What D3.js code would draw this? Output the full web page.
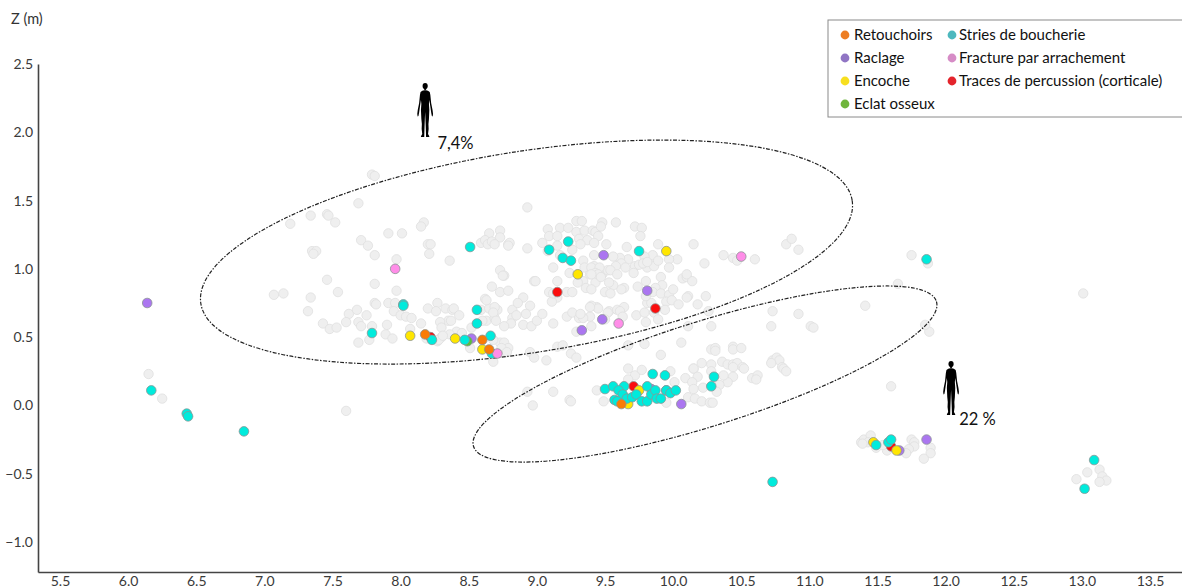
<!DOCTYPE html>
<html><head><meta charset="utf-8">
<script src="https://cdn.jsdelivr.net/npm/d3@7"></script>
<style>html,body{margin:0;padding:0;background:#fff}svg{display:block}text{font-family:Lato,"Open Sans",sans-serif}</style>
</head><body><svg id="c" width="1182" height="588"></svg>
<script>
const xTicks=[5.5,6,6.5,7,7.5,8,8.5,9,9.5,10,10.5,11,11.5,12,12.5,13,13.5];
const yTicks=[-1,-0.5,0,0.5,1,1.5,2,2.5];
const grisPoints=[
[7.79,1.69],[7.81,1.68],[7.69,1.48],[7.19,1.33],[7.34,1.39],[7.46,1.40],[7.47,1.39],[7.52,1.34],[7.91,1.26],[7.71,1.21],[7.76,1.17],[7.81,1.10],[7.35,1.13],[7.38,1.13],[7.36,1.11],[7.97,1.07],[7.46,0.92],[7.81,0.89],[7.97,0.84],[7.54,0.83],[7.07,0.81],[7.14,0.82],[7.34,0.79],[8.01,1.26],
[8.17,1.34],[8.15,1.31],[8.20,1.18],[8.22,1.18],[8.21,1.11],[8.36,1.06],[8.93,1.45],
[8.73,1.28],[8.65,1.26],[8.73,1.23],[8.59,1.19],[8.62,1.21],[8.64,1.18],[8.67,1.20],[8.69,1.18],[8.79,1.18],[8.80,1.19],[8.79,1.17],[8.93,1.15],
[9.08,1.29],[9.17,1.30],[9.23,1.30],[9.29,1.35],[9.33,1.35],[9.29,1.27],[9.35,1.28],[9.41,1.28],[9.43,1.27],[9.48,1.34],[9.47,1.31],[9.45,1.24],[9.09,1.24],[9.15,1.24],[9.04,1.19],[9.15,1.17],[9.08,1.13],[9.31,1.22],[9.37,1.21],[9.32,1.18],[9.42,1.19],[9.26,1.14],[9.17,1.10],[9.42,1.10],[9.34,1.06],[9.42,1.02],[9.12,1.01],[9.35,1.01],[9.24,0.97],[9.39,0.96],[9.48,0.96],[9.52,0.99],[9.34,0.91],[9.15,0.91],[9.43,0.90],[8.98,0.91],[8.99,0.91],[8.73,0.99],[8.76,0.95],[8.75,0.95],[8.67,0.87],[8.73,0.83],[8.79,0.84],[8.62,0.78],[8.90,0.79],[9.09,0.83],[9.22,0.83],[9.26,0.83],[9.30,0.90],[9.36,0.86],[9.50,0.83],[9.15,0.79],
[9.85,1.06],[9.85,1.10],[9.79,1.09],[9.67,1.07],[9.61,1.08],[9.56,1.09],[9.62,1.04],[9.58,1.02],[9.54,0.99],[9.59,0.96],[9.65,1.01],[9.72,1.02],[9.75,1.03],[9.81,1.01],[9.86,1.02],[9.71,0.97],[9.78,1.04],[9.81,1.05],[9.91,0.94],[9.80,0.91],[9.74,0.87],[9.64,0.86],[9.62,0.85],[9.56,0.88],[9.54,0.82],[9.53,0.90],[9.40,1.01],[9.46,1.01],[9.43,0.97],[9.45,0.96],[9.40,0.96],[9.47,0.94],[9.40,0.85],[10.07,0.93],[10.10,0.94],[10.14,0.91],[10.10,0.96],[9.92,0.88],[9.87,0.86],[9.85,0.83],[9.91,0.82],[9.97,0.81],[10.00,0.85],[9.95,0.76],[9.99,0.77],[10.04,0.74],[10.11,0.80],[10.10,0.79],[10.18,0.74],[10.24,0.80],[9.81,0.75],[9.84,0.75],[9.94,0.70],[9.80,0.80],[9.44,0.72],[9.40,0.73],[9.45,0.71],[9.53,0.69],[9.59,0.70],[9.64,0.72],[9.61,0.69],[9.63,0.65],[9.73,0.66],[9.79,0.68],[9.86,0.68],
[9.58,1.34],[9.72,1.31],[9.77,1.30],[9.76,1.24],[9.66,1.16],[9.89,1.18],[10.15,1.18],[10.23,1.04],[10.03,1.07],[9.97,1.07],[9.97,1.01],[9.89,1.06],[9.51,1.18],
[7.32,0.69],[7.81,0.75],[7.82,0.74],[7.91,0.75],[7.96,0.75],[7.62,0.67],[7.68,0.70],[7.75,0.66],[7.95,0.69],[8.00,0.66],[8.04,0.65],[7.60,0.61],[7.69,0.61],[7.71,0.58],[7.43,0.60],[7.48,0.56],[7.53,0.57],[7.79,0.58],[7.90,0.59],[7.89,0.52],[7.94,0.49],[7.69,0.46],[7.77,0.48],[8.07,0.56],
[8.27,0.75],[8.20,0.71],[8.26,0.69],[8.33,0.71],[8.38,0.70],[8.39,0.71],[8.43,0.66],[8.35,0.62],[8.37,0.62],[8.29,0.61],[8.30,0.57],[8.15,0.60],[8.08,0.64],[8.41,0.54],[8.45,0.53],[8.36,0.52],[8.30,0.50],[8.27,0.47],[8.19,0.49],[8.52,0.57],[8.59,0.70],[8.63,0.62],[8.60,0.62],[8.69,0.64],[8.71,0.70],[8.65,0.71],[8.69,0.72],[8.63,0.77],
[8.68,0.68],[8.82,0.70],[8.86,0.75],[8.95,0.73],[8.92,0.67],[8.82,0.64],[8.81,0.60],[8.90,0.59],[8.96,0.58],[9.00,0.62],[9.04,0.67],[9.12,0.60],[9.22,0.65],[9.26,0.68],[9.31,0.64],[8.70,0.62],[8.76,0.58],[9.11,0.76],[9.12,0.82],
[8.73,0.46],[8.76,0.46],[8.79,0.42],[8.74,0.42],[8.78,0.39],[8.68,0.32],[8.51,0.42],[8.95,0.39],[8.98,0.35],[9.07,0.33],[9.15,0.43],[9.19,0.44],[9.25,0.38],[9.29,0.35],[8.68,0.48],[8.28,0.48],[8.31,0.51],
[9.39,0.65],[9.34,0.64],[9.32,0.67],[9.39,0.72],[9.52,0.68],[9.50,0.63],[9.40,0.58],[9.29,0.54],[8.85,0.66],[9.44,0.11],[9.24,0.04],[9.12,0.10],[8.93,0.10],[8.97,0.00],
[10.37,1.10],[10.44,1.08],[10.47,1.06],[10.60,1.07],[10.83,1.18],[10.87,1.22],[10.92,1.14],[10.73,0.69],[10.92,0.67],[10.72,0.58],[11.01,0.58],[11.03,0.57],[11.41,0.73],[10.28,0.58],[10.11,0.58],[10.26,0.69],[9.89,0.63],[9.80,0.61],[9.67,0.44],[9.79,0.45],[9.91,0.37],[10.06,0.46],[10.28,0.41],[10.31,0.42],[10.31,0.40],[10.44,0.43],[10.44,0.41],[10.50,0.42],
[10.21,0.31],[10.15,0.27],[10.28,0.30],[10.36,0.32],[10.40,0.30],[10.44,0.30],[10.47,0.31],[10.51,0.28],[10.73,0.33],[10.76,0.35],[10.78,0.33],[10.80,0.28],[10.72,0.31],[10.81,0.27],[10.83,0.25],[10.58,0.20],[10.62,0.22],[10.61,0.19],[10.44,0.28],[10.52,0.27],[10.44,0.21],[10.40,0.17],[10.15,0.27],[10.28,0.25],[10.18,0.21],[10.09,0.20],[10.14,0.17],[10.22,0.13],[10.15,0.12],[10.34,0.15],[10.37,0.22],[10.32,0.10],[10.11,0.06],[10.16,0.05],[10.21,0.03],[10.27,0.02],[10.29,0.02],[9.67,0.27],[9.72,0.22],[9.67,0.19],[9.98,0.25],[10.01,0.17],[9.49,0.03],[9.25,0.03],[9.95,0.02],[9.77,0.26],
[11.60,0.14],[11.38,-0.27],[11.40,-0.25],[11.45,-0.22],[11.43,-0.27],[11.39,-0.28],[11.49,-0.31],[11.57,-0.33],[11.54,-0.29],[11.75,-0.25],[11.77,-0.27],[11.77,-0.30],[11.73,-0.32],[11.71,-0.35],[11.89,-0.31],[11.89,-0.35],[11.84,-0.39],[12.96,-0.54],[13.04,-0.49],[13.13,-0.47],[13.15,-0.52],[13.18,-0.55],[13.13,-0.56],
[6.15,0.23],[6.25,0.05],[7.60,-0.04],[13.01,0.82],[11.75,1.10],[11.65,0.89],[11.87,1.04],[11.88,0.54],[11.85,0.59]
];
const raclage=[[6.14,0.75],[8.52,0.49],[9.49,1.10],[9.81,0.84],[9.48,0.63],[9.33,0.55],[10.06,0.01],[11.86,-0.25],[11.66,-0.33],[9.84,0.12],[9.95,0.11]];
const eclatOsseux=[[8.49,0.47]];
const percussion=[[8.22,0.50],[9.15,0.83],[9.87,0.71],[9.71,0.14],[11.60,-0.30]];
const encoche=[[8.07,0.51],[8.40,0.49],[8.60,0.41],[9.30,0.96],[9.95,1.13],[11.47,-0.27],[11.64,-0.33],[9.67,0.01],[9.75,0.11]];
const stries=[[6.17,0.11],[6.43,-0.06],[6.44,-0.08],[6.85,-0.19],[10.73,-0.56],[13.09,-0.40],[13.02,-0.61],[7.79,0.53],[8.02,0.74],[8.02,0.73],[8.51,1.16],[8.23,0.48],[8.56,0.70],[8.56,0.60],[8.47,0.48],[8.66,0.51],[8.67,0.38],[9.23,1.20],[9.09,1.14],[9.19,1.08],[9.25,1.06],[9.75,1.13],[9.85,0.23],[9.94,0.22],[9.50,0.12],[9.56,0.14],[9.64,0.14],[9.60,0.11],[9.63,0.08],[9.57,0.04],[9.59,0.03],[9.66,0.05],[9.70,0.06],[9.73,0.08],[9.77,0.03],[9.81,0.03],[9.81,0.14],[9.84,0.08],[9.87,0.11],[9.88,0.05],[9.91,0.05],[9.95,0.11],[9.98,0.09],[10.02,0.11],[10.30,0.21],[10.28,0.14],[11.49,-0.29],[11.58,-0.27],[11.60,-0.25],[11.86,1.07]];
const fracture=[[7.96,1.00],[10.50,1.09],[9.60,0.60],[8.71,0.38]];
const retouchoirs=[[8.18,0.52],[8.60,0.48],[8.65,0.41],[9.62,0.01]];
const markSeries=[[raclage,"#ab76f0"],[eclatOsseux,"#55c43a"],[percussion,"#fb0d0d"],[encoche,"#ffe600"],[stries,"#00ebdc"],[fracture,"#ff8de8"],[retouchoirs,"#f97c06"]];
const legendCol1=[["Retouchoirs","#ed7d22"],["Raclage","#9075c4"],["Encoche","#f7df1f"],["Eclat osseux","#6fb53c"]];
const legendCol2=[["Stries de boucherie","#4db8be"],["Fracture par arrachement","#d68cc6"],["Traces de percussion (corticale)","#e4242c"]];
const ellipses=[{cx:8.924,cy:1.123,rx:2.42,ry:0.737,a:-9},{cx:10.234,cy:0.23,rx:1.78,ry:0.383,a:-17.4}];
const humans=[{x:8.18,top:2.36,label:"7,4%",lx:8.27,ly:1.88},{x:12.04,top:0.325,label:"22 %",lx:12.10,ly:-0.145}];

const svg=d3.select("#c");
const x=d3.scaleLinear().domain([5.3385,13.735]).range([38,1182]);
const y=d3.scaleLinear().domain([-1.2197,2.5]).range([572,64]);

const ax=svg.append("g").attr("transform","translate(0,572)").call(d3.axisBottom(x).tickValues(xTicks).tickSizeInner(0).tickSizeOuter(0).tickPadding(4).tickFormat(d3.format(".1f")));
const ay=svg.append("g").attr("transform","translate(38,0)").call(d3.axisLeft(y).tickValues(yTicks).tickSizeInner(0).tickSizeOuter(0).tickPadding(5).tickFormat(d3.format(".1f")));
[ax,ay].forEach(g=>{g.select(".domain").attr("stroke","#444").attr("stroke-width",1.6);
  g.selectAll("text").attr("font-family","Lato").attr("font-size",14).attr("fill","#3a3a3a");});
svg.append("text").attr("x",11).attr("y",24).attr("font-size",14.5).attr("fill","#333").text("Z (m)");

svg.append("g").selectAll("circle").data(grisPoints).join("circle")
 .attr("cx",d=>x(d[0])).attr("cy",d=>y(d[1])).attr("r",4.7).attr("fill","#efefef").attr("stroke","#dfdfdf").attr("stroke-width",0.8);

svg.append("g").selectAll("ellipse").data(ellipses).join("ellipse")
 .attr("cx",d=>x(d.cx)).attr("cy",d=>y(d.cy)).attr("rx",d=>x(d.cx+d.rx)-x(d.cx)).attr("ry",d=>y(d.cy-d.ry)-y(d.cy))
 .attr("transform",d=>`rotate(${d.a} ${x(d.cx)} ${y(d.cy)})`)
 .attr("fill","none").attr("stroke","#222").attr("stroke-width",1.2).attr("stroke-dasharray","4 1.5 1.5 1.5");

markSeries.forEach(([pts,col])=>{
 svg.append("g").selectAll("circle").data(pts).join("circle")
  .attr("cx",d=>x(d[0])).attr("cy",d=>y(d[1])).attr("r",4.8).attr("fill",col).attr("stroke","#8b9494").attr("stroke-width",0.8);
});

const half=[[1,5.6],[1,6.6],[-2.8,7.6],[-4.6,9],[-5.2,12],[-6,20],[-7.4,27],[-7.9,31],[-7.5,33.5],[-6.7,33],[-6.1,30],[-5.1,23],[-4.2,17],[-3.8,21],[-4.2,27],[-3.8,36],[-3.3,41],[-3.5,46],[-2.9,51],[-4.3,53.4],[-3.9,54],[-0.9,54],[-0.8,50],[-0.6,44],[-0.3,36],[0,29]];
const hPath=d3.line()(half.concat(half.slice(0,-1).reverse().map(p=>[-p[0],p[1]])))+"Z";
const hg=svg.append("g").selectAll("g").data(humans).join("g")
 .attr("transform",d=>`translate(${x(d.x)},${y(d.top)})`);
hg.append("path").attr("d",hPath).attr("fill","#000");
hg.append("ellipse").attr("cx",0).attr("cy",3).attr("rx",2.6).attr("ry",3.1).attr("fill","#000");
svg.append("g").selectAll("text").data(humans).join("text")
 .attr("x",d=>x(d.lx)).attr("y",d=>y(d.ly)).attr("font-size",16.5).attr("fill","#111").text(d=>d.label);

const lg=svg.append("g");
lg.append("rect").attr("x",828).attr("y",20).attr("width",360).attr("height",97).attr("fill","#fff").attr("stroke","#8a8a8a").attr("stroke-width",1);
const rowY=[35,58,81,104];
[[legendCol1,845,854],[legendCol2,952,959]].forEach(([items,mx,tx])=>{
 items.forEach((it,i)=>{
  lg.append("circle").attr("cx",mx).attr("cy",rowY[i]).attr("r",4.4).attr("fill",it[1]);
  lg.append("text").attr("x",tx).attr("y",rowY[i]+5).attr("font-size",15).attr("fill","#111").text(it[0]);
 });
});
</script></body></html>
